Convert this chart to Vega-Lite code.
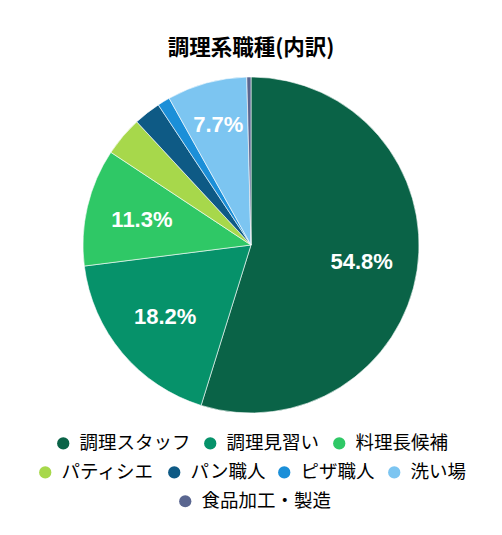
{
  "$schema": "https://vega.github.io/schema/vega-lite/v6.json",
  "autosize": {"type": "none"},
  "padding": {"top": 65, "left": 0, "right": 0, "bottom": 110},
  "width": 502,
  "height": 360,
  "background": "#ffffff",
  "title": {
    "text": "調理系職種(内訳)",
    "font": "Noto Sans CJK JP",
    "fontSize": 21.5,
    "fontWeight": "bold",
    "color": "#000000",
    "anchor": "middle",
    "offset": 6
  },
  "data": {
    "values": [
      {"role": "調理スタッフ", "pct": 54.8},
      {"role": "調理見習い", "pct": 18.2},
      {"role": "料理長候補", "pct": 11.3},
      {"role": "パティシエ", "pct": 3.8},
      {"role": "パン職人", "pct": 2.6},
      {"role": "ピザ職人", "pct": 1.2},
      {"role": "洗い場", "pct": 7.7},
      {"role": "食品加工・製造", "pct": 0.4}
    ]
  },
  "transform": [
    {"window": [{"op": "row_number", "as": "rank"}]},
    {"calculate": "format(datum.pct, '.1f') + '%'", "as": "label"}
  ],
  "layer": [
    {
      "mark": {"type": "arc", "outerRadius": 168, "stroke": "#ffffff", "strokeWidth": 0.6},
      "encoding": {
        "theta": {"field": "pct", "type": "quantitative", "stack": true},
        "order": {"field": "rank", "type": "quantitative"},
        "color": {
          "field": "role",
          "type": "nominal",
          "scale": {
            "domain": ["調理スタッフ", "調理見習い", "料理長候補", "パティシエ", "パン職人", "ピザ職人", "洗い場", "食品加工・製造"],
            "range": ["#0a6347", "#06926a", "#2fc866", "#a7d84b", "#0e5a85", "#1b8fd8", "#7cc5f1", "#5a6690"]
          },
          "legend": {
            "values": ["調理スタッフ", "調理見習い", "料理長候補"],
            "orient": "none",
            "legendX": 54,
            "legendY": 369,
            "symbolSize": 150
          }
        }
      }
    },
    {
      "mark": {"type": "arc", "outerRadius": 0},
      "encoding": {
        "theta": {"field": "pct", "type": "quantitative", "stack": true},
        "order": {"field": "rank", "type": "quantitative"},
        "color": {
          "field": "role",
          "type": "nominal",
          "scale": {
            "domain": ["調理スタッフ", "調理見習い", "料理長候補", "パティシエ", "パン職人", "ピザ職人", "洗い場", "食品加工・製造"],
            "range": ["#0a6347", "#06926a", "#2fc866", "#a7d84b", "#0e5a85", "#1b8fd8", "#7cc5f1", "#5a6690"]
          },
          "legend": {
            "values": ["パティシエ", "パン職人", "ピザ職人", "洗い場"],
            "orient": "none",
            "legendX": 36,
            "legendY": 398,
            "symbolSize": 150
          }
        }
      }
    },
    {
      "mark": {"type": "arc", "outerRadius": 0},
      "encoding": {
        "theta": {"field": "pct", "type": "quantitative", "stack": true},
        "order": {"field": "rank", "type": "quantitative"},
        "color": {
          "field": "role",
          "type": "nominal",
          "scale": {
            "domain": ["調理スタッフ", "調理見習い", "料理長候補", "パティシエ", "パン職人", "ピザ職人", "洗い場", "食品加工・製造"],
            "range": ["#0a6347", "#06926a", "#2fc866", "#a7d84b", "#0e5a85", "#1b8fd8", "#7cc5f1", "#5a6690"]
          },
          "legend": {
            "values": ["食品加工・製造"],
            "orient": "none",
            "legendX": 176,
            "legendY": 427,
            "symbolSize": 150
          }
        }
      }
    },
    {
      "mark": {"type": "text", "radius": 112, "font": "Liberation Sans", "fontSize": 22, "fontWeight": "bold", "fill": "#ffffff"},
      "encoding": {
        "theta": {"field": "pct", "type": "quantitative", "stack": true},
        "order": {"field": "rank", "type": "quantitative"},
        "text": {"condition": {"test": "datum.pct >= 10", "field": "label"}, "value": ""}
      }
    },
    {
      "mark": {"type": "text", "radius": 124, "font": "Liberation Sans", "fontSize": 22, "fontWeight": "bold", "fill": "#ffffff"},
      "encoding": {
        "theta": {"field": "pct", "type": "quantitative", "stack": true},
        "order": {"field": "rank", "type": "quantitative"},
        "text": {"condition": {"test": "datum.role === '洗い場'", "field": "label"}, "value": ""}
      }
    }
  ],
  "resolve": {"scale": {"color": "independent"}, "legend": {"color": "independent"}},
  "config": {
    "view": {"stroke": null},
    "legend": {
      "title": null,
      "direction": "horizontal",
      "symbolType": "circle",
      "symbolStrokeWidth": 0,
      "labelFont": "Noto Sans CJK JP",
      "labelFontSize": 18.5,
      "labelColor": "#000000",
      "labelOffset": 7,
      "labelLimit": 300,
      "columnPadding": 10,
      "padding": 0
    }
  }
}
